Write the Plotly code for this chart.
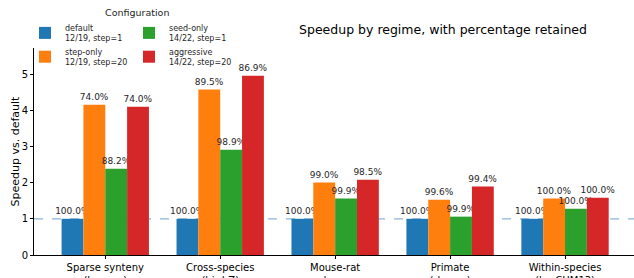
import plotly.graph_objects as go

categories = ["Sparse synteny<br>(hg-mm)", "Cross-species<br>(bird-Z)", "Mouse-rat<br>dense",
              "Primate<br>(rhesus)", "Within-species<br>(hg-CHM13)"]
configs = ["default", "step-only", "seed-only", "aggressive"]
config_labels = ["default<br>12/19, step=1", "step-only<br>12/19, step=20",
                 "seed-only<br>14/22, step=1", "aggressive<br>14/22, step=20"]
speedup_default = [1.0, 1.0, 1.0, 1.0, 1.0]
speedup_step = [4.15, 4.57, 2.00, 1.53, 1.56]
speedup_seed = [2.38, 2.91, 1.56, 1.06, 1.28]
speedup_aggr = [4.10, 4.95, 2.08, 1.89, 1.58]
retained_default = ["100.0%", "100.0%", "100.0%", "100.0%", "100.0%"]
retained_step = ["74.0%", "89.5%", "99.0%", "99.6%", "100.0%"]
retained_seed = ["88.2%", "98.9%", "99.9%", "99.9%", "100.0%"]
retained_aggr = ["74.0%", "86.9%", "98.5%", "99.4%", "100.0%"]

values = [speedup_default, speedup_step, speedup_seed, speedup_aggr]
texts = [retained_default, retained_step, retained_seed, retained_aggr]
colors = ["#1f77b4", "#ff7f0e", "#2ca02c", "#d62728"]
legends = ["legend", "legend", "legend2", "legend2"]

FONT = "DejaVu Sans"
W, H = 634, 278
L, R, T, B = 34, 0, 48, 23
bw = 0.19
xs = list(range(len(categories)))

fig = go.Figure()
for i in range(4):
    fig.add_trace(go.Bar(
        x=xs, y=values[i], name=config_labels[i],
        width=bw, offset=-2 * bw + i * bw,
        marker=dict(color=colors[i], line=dict(width=0)),
        text=texts[i], textposition="outside", constraintext="none",
        textfont=dict(family=FONT, size=9, color="#262626"),
        cliponaxis=False, legend=legends[i], hoverinfo="skip",
    ))

fig.add_shape(type="line", xref="paper", x0=0, x1=1, yref="y", y0=1, y1=1,
              line=dict(color="#8ab4dc", width=1.2, dash="dash"), layer="below")

pw, ph = W - L - R, H - T - B
fig.update_layout(
    width=W, height=H,
    margin=dict(l=L, r=R, t=T, b=B, autoexpand=False, pad=0),
    paper_bgcolor="white", plot_bgcolor="white",
    font=dict(family=FONT, size=10, color="black"),
    barmode="overlay",
    uniformtext=dict(mode=False),
    title=dict(text="Speedup by regime, with percentage retained",
               x=443 / W, xref="container", xanchor="center",
               y=1 - 30 / H, yref="container", yanchor="middle",
               font=dict(family=FONT, size=12.5, color="black")),
    xaxis=dict(range=[-0.62, 4.6], tickvals=xs, ticktext=categories,
               tickangle=0,
               showline=True, linecolor="black", linewidth=1,
               ticks="outside", ticklen=3, tickcolor="black",
               showgrid=False, zeroline=False,
               tickfont=dict(family=FONT, size=10, color="black")),
    yaxis=dict(range=[0, 5.72], tickvals=[0, 1, 2, 3, 4, 5],
               showline=True, linecolor="black", linewidth=1,
               ticks="outside", ticklen=3, tickcolor="black",
               showgrid=False, zeroline=False,
               tickfont=dict(family=FONT, size=10, color="black")),
    legend=dict(x=25 / W, xref="container", xanchor="left",
                y=1 - 16 / H, yref="container", yanchor="top",
                orientation="v", bgcolor="rgba(0,0,0,0)",
                font=dict(family=FONT, size=8, color="#262626"),
                tracegroupgap=0, itemwidth=30),
    legend2=dict(x=129 / W, xref="container", xanchor="left",
                 y=1 - 16 / H, yref="container", yanchor="top",
                 orientation="v", bgcolor="rgba(0,0,0,0)",
                 font=dict(family=FONT, size=8, color="#262626"),
                 tracegroupgap=0, itemwidth=30),
    annotations=[
        dict(text="Configuration", xref="paper", yref="paper",
             x=(137 - L) / pw, y=1 + (T - 13) / ph,
             xanchor="center", yanchor="middle", showarrow=False,
             font=dict(family=FONT, size=9.5, color="#262626")),
        dict(text="Speedup vs. default", xref="paper", yref="paper",
             x=(15 - L) / pw, y=0.5, textangle=-90,
             xanchor="center", yanchor="middle", showarrow=False,
             font=dict(family=FONT, size=11, color="black")),
    ],
)

fig.write_html("out.html", config={"displayModeBar": False},
               post_script="document.body.style.margin='0';")
